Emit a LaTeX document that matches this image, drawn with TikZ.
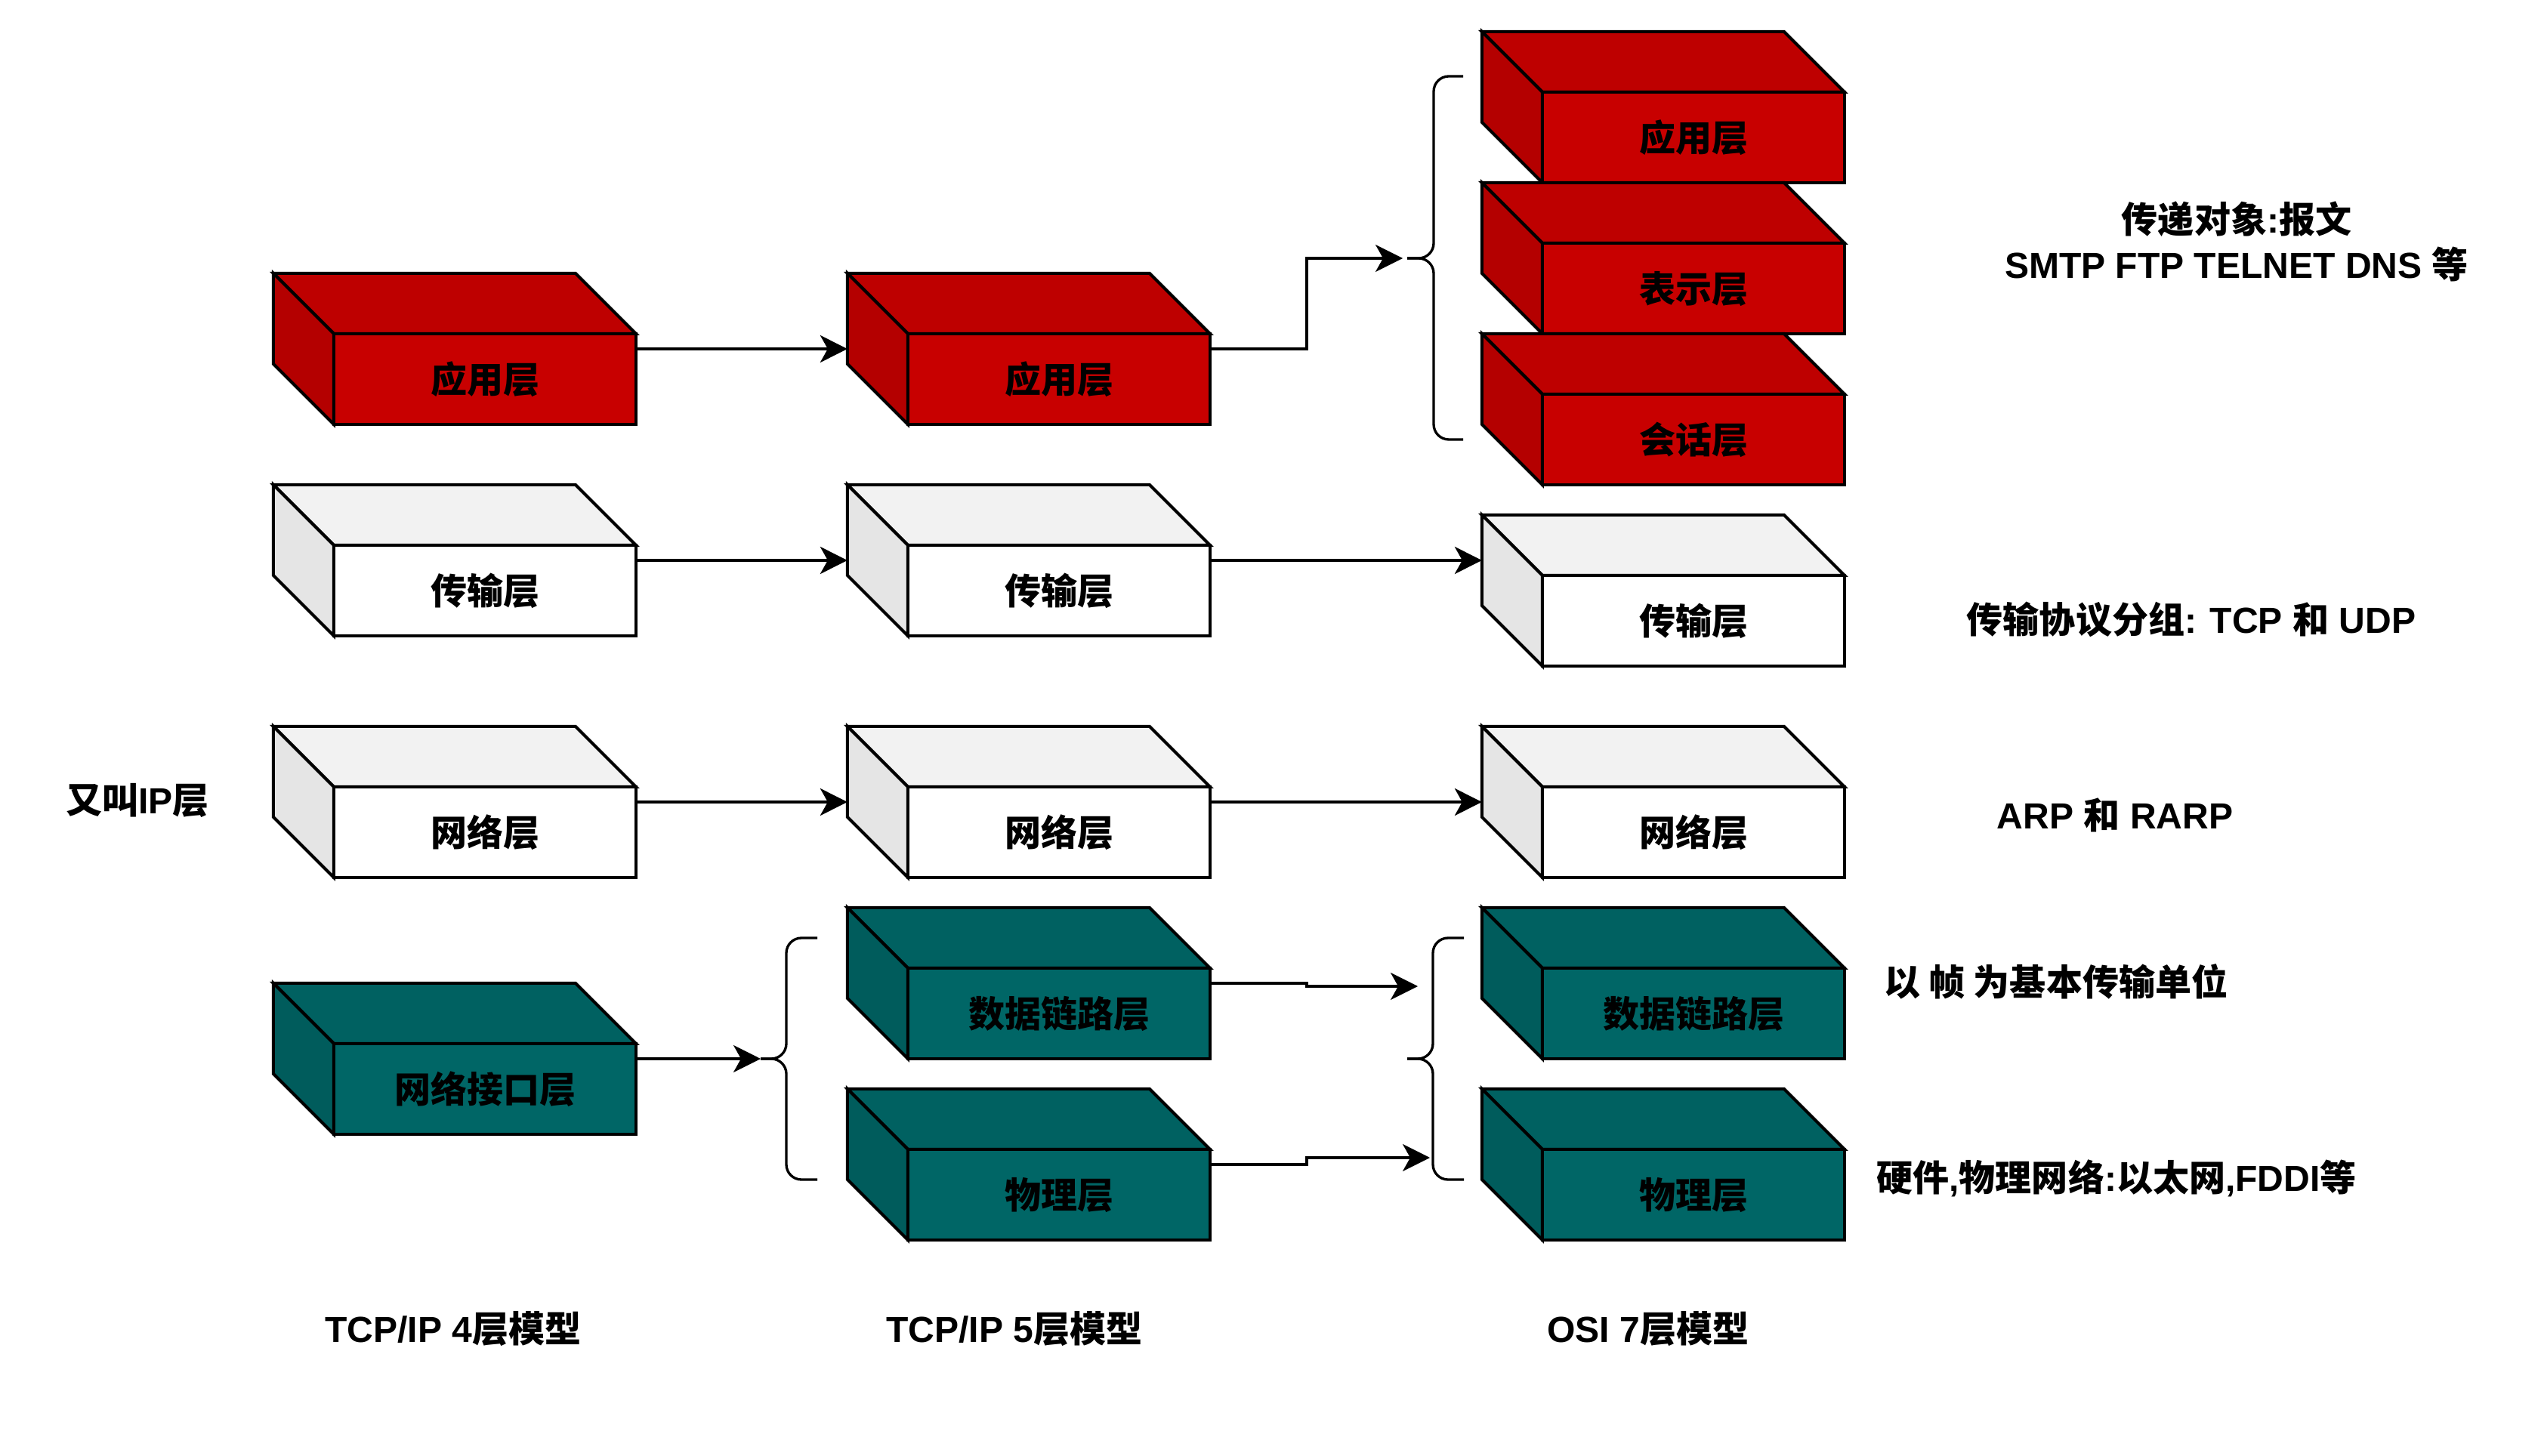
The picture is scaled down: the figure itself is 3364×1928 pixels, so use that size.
\documentclass[tikz,border=0pt]{standalone}
\usepackage{fontspec}
\setmainfont{Liberation Sans}
\newfontfamily\cjk{Noto Sans CJK SC}
\usetikzlibrary{calc,arrows.meta}

\definecolor{layerred}{HTML}{C80000}
\definecolor{layerteal}{HTML}{006666}

\tikzset{
	cubebox/.style={minimum width=4.8cm, minimum height=2cm, inner sep=0pt, outer sep=0pt},
	face/.style={draw=black, line width=1.15pt},
	cubetext/.style={inner sep=0pt},
	link/.style={line width=0.95pt, -{Stealth[length=0.36cm, width=0.36cm, inset=0.1cm]}},
	bracket/.style={line width=0.95pt, rounded corners=0.2cm},
	note/.style={align=center, inner sep=0pt}
}

% cube: colour, name, centre (px), label
\def\layercube[#1](#2)(#3,#4)#5{
	\node[cubebox] (#2) at (#3,#4) {};
	\filldraw[fill=#1!95!black, face] (#2.north west) -- ++(400,0) -- ++(80,80) -- ++(-400,0) -- cycle;
	\filldraw[fill=#1!90!black, face] (#2.north west) -- ++(80,80) -- ++(0,120) -- ++(-80,-80) -- cycle;
	\filldraw[fill=#1, face] ($(#2.north west)+(80,80)$) rectangle (#2.south east);
	\node[cubetext] (#2-label) at ($(#2.south east)+(-200,-60)$) {\cjk #5};
}

\begin{document}
\begin{tikzpicture}[x=0.01cm, y=-0.01cm, font=\fontsize{13.66pt}{17.07pt}\selectfont\bfseries]
	%%%%% START %%%%%
	\fill[white] (0,0) rectangle (3364,1928);
	\useasboundingbox (0,0) rectangle (3364,1928);
	
	% TCP/IP 4
	\layercube[layerred](tcp4-app)(602,462){应用层}
	\layercube[white](tcp4-tra)(602,742){传输层}
	\layercube[white](tcp4-net)(602,1062){网络层}
	\layercube[layerteal](tcp4-nif)(602,1402){网络接口层}
	
	% TCP/IP 5
	\layercube[layerred](tcp5-app)(1362,462){应用层}
	\layercube[white](tcp5-tra)(1362,742){传输层}
	\layercube[white](tcp5-net)(1362,1062){网络层}
	\layercube[layerteal](tcp5-dl)(1362,1302){数据链路层}
	\layercube[layerteal](tcp5-phy)(1362,1542){物理层}
	
	% OSI 7
	\layercube[layerred](osi-app)(2202,142){应用层}
	\layercube[layerred](osi-pre)(2202,342){表示层}
	\layercube[layerred](osi-ses)(2202,542){会话层}
	\layercube[white](osi-tra)(2202,782){传输层}
	\layercube[white](osi-net)(2202,1062){网络层}
	\layercube[layerteal](osi-dl)(2202,1302){数据链路层}
	\layercube[layerteal](osi-phy)(2202,1542){物理层}
	
	% braces
	\coordinate (tcp5-brace) at (1007,1402);
	\draw[bracket] (1082,1242) -- (1041,1242) -- (1041,1402) -- (tcp5-brace);
	\draw[bracket] (1082,1562) -- (1041,1562) -- (1041,1402) -- (tcp5-brace);
	
	\coordinate (osi-up-brace) at (1863,342);
	\draw[bracket] (1937,101) -- (1898,101) -- (1898,342) -- (osi-up-brace);
	\draw[bracket] (1937,582) -- (1898,582) -- (1898,342) -- (osi-up-brace);
	
	\coordinate (osi-low-brace) at (1863,1402);
	\draw[bracket] (1938,1242) -- (1897,1242) -- (1897,1402) -- (osi-low-brace);
	\draw[bracket] (1938,1562) -- (1897,1562) -- (1897,1402) -- (osi-low-brace);
	
	\coordinate (osi-up-in) at (1857,342);
	\coordinate (osi-dl-in) at (1877,1306);
	\coordinate (osi-phy-in) at (1893,1533);
	
	% links
	\draw[link] (tcp4-app.east) -- (tcp5-app.west);
	\draw[link] (tcp4-tra.east) -- (tcp5-tra.west);
	\draw[link] (tcp4-net.east) -- (tcp5-net.west);
	\draw[link] (tcp4-nif.east) -- (tcp5-brace);
	
	\draw[link] (tcp5-app.east) -- ++(128,0) |- (osi-up-in);
	\draw[link] (tcp5-tra.east) -- (tcp5-tra.east -| osi-tra.west);
	\draw[link] (tcp5-net.east) -- (osi-net.west);
	\draw[link] (tcp5-dl.east) -- ++(128,0) |- (osi-dl-in);
	\draw[link] (tcp5-phy.east) -- ++(128,0) |- (osi-phy-in);
	
	% labels
	\node[note] (ip-note) at (182,1060) {{\cjk 又叫}IP{\cjk 层}};
	\node[note] (tcp4-title) at (600,1760) {TCP/IP 4{\cjk 层模型}};
	\node[note] (tcp5-title) at (1343,1760) {TCP/IP 5{\cjk 层模型}};
	\node[note] (osi-title) at (2182,1760) {OSI 7{\cjk 层模型}};
	
	\node[note] (app-note) at (2961,320) {{\cjk 传递对象}:{\cjk 报文}\\SMTP FTP TELNET DNS {\cjk 等}};
	\node[note] (tra-note) at (2901,820) {{\cjk 传输协议分组}: TCP {\cjk 和} UDP};
	\node[note] (net-note) at (2800,1079) {ARP {\cjk 和} RARP};
	\node[note] (dl-note) at (2722,1300) {{\cjk 以 帧 为基本传输单位}};
	\node[note] (phy-note) at (2802,1560) {{\cjk 硬件},{\cjk 物理网络}:{\cjk 以太网},FDDI{\cjk 等}};
	%%%%% END %%%%%
\end{tikzpicture}
\end{document}
